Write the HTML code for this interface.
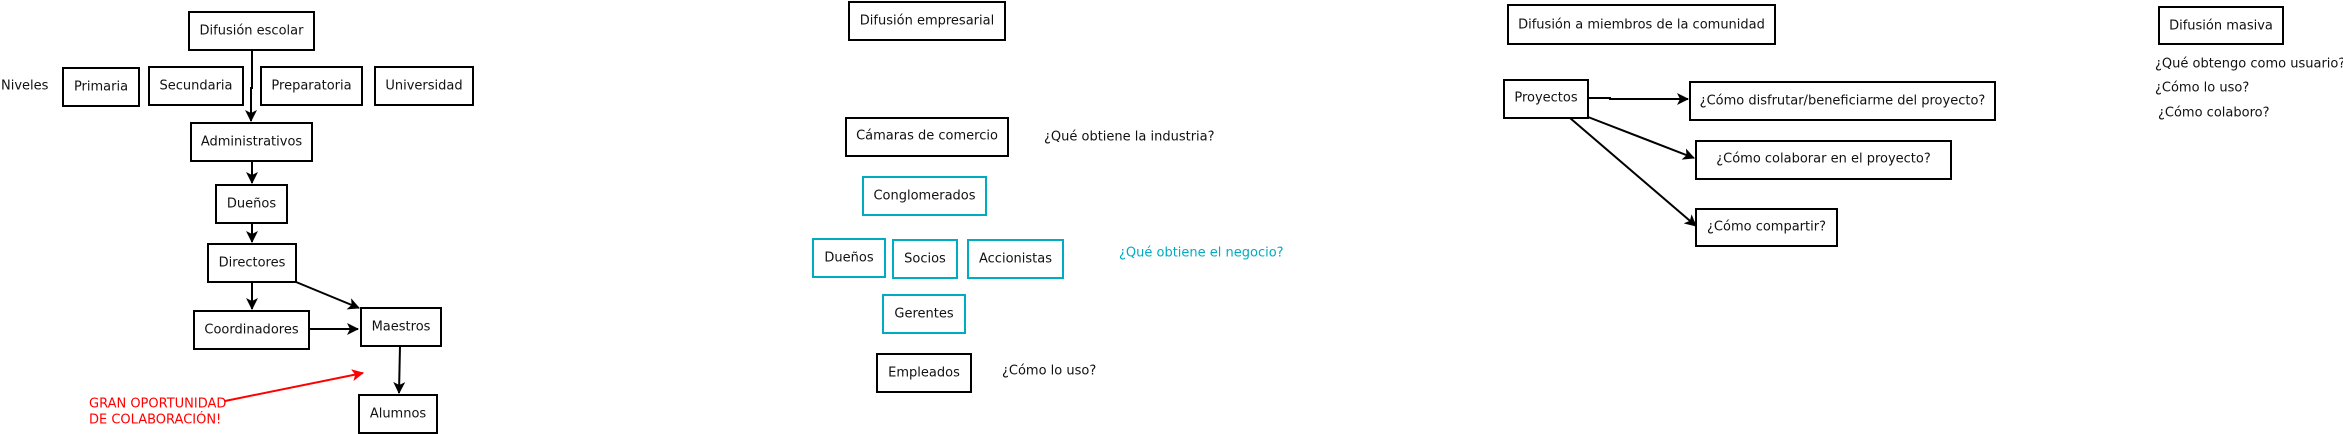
<!DOCTYPE html>
<html><head><meta charset="utf-8"><style>
html,body{margin:0;padding:0;background:#fff;}
svg{display:block;}
text{font-family:"DejaVu Sans","Liberation Sans",sans-serif;font-size:13px;fill:#111;dominant-baseline:central;}
.b{fill:none;stroke:#000;stroke-width:2;}
.c{fill:none;stroke:#00acc1;stroke-width:2;}
.l{fill:none;stroke:#000;stroke-width:2;}
</style></head><body>
<svg width="2343" height="434" viewBox="0 0 2343 434" xmlns="http://www.w3.org/2000/svg">
<defs>
<marker id="a" viewBox="0 0 12 12" refX="11" refY="6" markerWidth="12" markerHeight="12" markerUnits="userSpaceOnUse" orient="auto">
<path d="M0,0 L12,6 L0,12 L3,6 Z" fill="#000"/></marker>
<marker id="r" viewBox="0 0 12 12" refX="11" refY="6" markerWidth="12" markerHeight="12" markerUnits="userSpaceOnUse" orient="auto">
<path d="M0,0 L12,6 L0,12 L3,6 Z" fill="#f00"/></marker>
</defs>
<!-- Escolar -->
<rect class="b" x="189" y="12" width="125" height="38"/><text x="251.5" y="31" text-anchor="middle">Difusión escolar</text>
<text x="1" y="86">Niveles</text>
<rect class="b" x="63" y="68" width="76" height="38"/><text x="101" y="87" text-anchor="middle">Primaria</text>
<rect class="b" x="149" y="67" width="94" height="38"/><text x="196" y="86" text-anchor="middle">Secundaria</text>
<rect class="b" x="261" y="67" width="101" height="38"/><text x="311.5" y="86" text-anchor="middle">Preparatoria</text>
<rect class="b" x="375" y="67" width="98" height="38"/><text x="424" y="86" text-anchor="middle">Universidad</text>
<path class="l" d="M252,50 L252,88 L251,88 L251,121" marker-end="url(#a)"/>
<rect class="b" x="191" y="123" width="121" height="38"/><text x="251.5" y="142" text-anchor="middle">Administrativos</text>
<path class="l" d="M252,161 L252,183" marker-end="url(#a)"/>
<rect class="b" x="216" y="185" width="71" height="38"/><text x="251.5" y="204" text-anchor="middle">Dueños</text>
<path class="l" d="M252,223 L252,242" marker-end="url(#a)"/>
<rect class="b" x="208" y="244" width="88" height="38"/><text x="252" y="263" text-anchor="middle">Directores</text>
<path class="l" d="M252,282 L252,309" marker-end="url(#a)"/>
<rect class="b" x="194" y="311" width="115" height="38"/><text x="251.5" y="330" text-anchor="middle">Coordinadores</text>
<path class="l" d="M296,282 L359,308" marker-end="url(#a)"/>
<path class="l" d="M309,329 L358,329" marker-end="url(#a)"/>
<rect class="b" x="361" y="308" width="80" height="38"/><text x="401" y="327" text-anchor="middle">Maestros</text>
<path class="l" d="M400,346 L399,393" marker-end="url(#a)"/>
<rect class="b" x="359" y="395" width="78" height="38"/><text x="398" y="414" text-anchor="middle">Alumnos</text>
<path d="M225,401 L363,373" stroke="#f00" stroke-width="2" fill="none" marker-end="url(#r)"/>
<text x="89" y="404" style="fill:#f00">GRAN OPORTUNIDAD</text>
<text x="89" y="420" style="fill:#f00">DE COLABORACIÓN!</text>
<!-- Empresarial -->
<rect class="b" x="849" y="2" width="156" height="38"/><text x="927" y="21" text-anchor="middle">Difusión empresarial</text>
<rect class="b" x="846" y="118" width="162" height="38"/><text x="927" y="136" text-anchor="middle">Cámaras de comercio</text>
<text x="1044" y="137">¿Qué obtiene la industria?</text>
<rect class="c" x="863" y="177" width="123" height="38"/><text x="924.5" y="196" text-anchor="middle">Conglomerados</text>
<rect class="c" x="813" y="239" width="72" height="38"/><text x="849" y="258" text-anchor="middle">Dueños</text>
<rect class="c" x="893" y="240" width="64" height="38"/><text x="925" y="259" text-anchor="middle">Socios</text>
<rect class="c" x="968" y="240" width="95" height="38"/><text x="1015.5" y="259" text-anchor="middle">Accionistas</text>
<text x="1119" y="253" style="fill:#00acc1">¿Qué obtiene el negocio?</text>
<rect class="c" x="883" y="295" width="82" height="38"/><text x="924" y="314" text-anchor="middle">Gerentes</text>
<rect class="b" x="877" y="354" width="94" height="38"/><text x="924" y="373" text-anchor="middle">Empleados</text>
<text x="1002" y="371">¿Cómo lo uso?</text>
<!-- Comunidad -->
<rect class="b" x="1508" y="5" width="267" height="39"/><text x="1641.5" y="25" text-anchor="middle">Difusión a miembros de la comunidad</text>
<rect class="b" x="1504" y="80" width="84" height="38"/><text x="1546" y="98" text-anchor="middle">Proyectos</text>
<path class="l" d="M1588,98 L1610,98 L1610,99 L1688,99" marker-end="url(#a)"/>
<path class="l" d="M1588,117 L1694,158" marker-end="url(#a)"/>
<path class="l" d="M1570,118 L1696,226" marker-end="url(#a)"/>
<rect class="b" x="1690" y="82" width="305" height="38"/><text x="1842.5" y="101" text-anchor="middle">¿Cómo disfrutar/beneficiarme del proyecto?</text>
<rect class="b" x="1696" y="141" width="255" height="38"/><text x="1823.5" y="159" text-anchor="middle">¿Cómo colaborar en el proyecto?</text>
<rect class="b" x="1696" y="209" width="141" height="37"/><text x="1766.5" y="227" text-anchor="middle">¿Cómo compartir?</text>
<!-- Masiva -->
<rect class="b" x="2159" y="7" width="124" height="37"/><text x="2221" y="26" text-anchor="middle">Difusión masiva</text>
<text x="2155" y="64">¿Qué obtengo como usuario?</text>
<text x="2155" y="88">¿Cómo lo uso?</text>
<text x="2158" y="113">¿Cómo colaboro?</text>
</svg>
</body></html>
